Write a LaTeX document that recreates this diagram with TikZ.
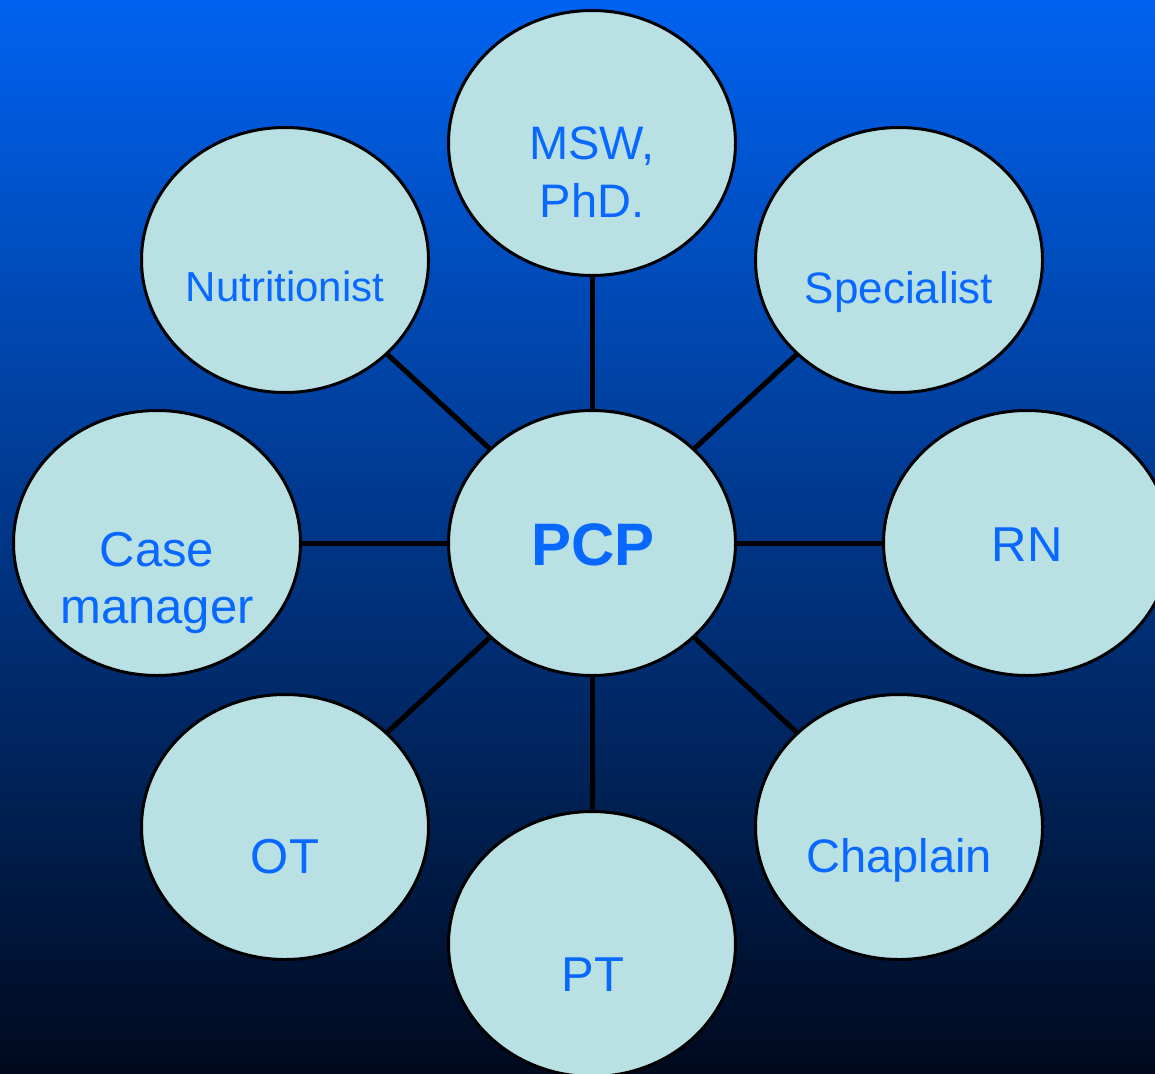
\documentclass[tikz,border=0pt]{standalone}
\usepackage{fontspec}
\setmainfont{Liberation Sans}
\usetikzlibrary{shapes.geometric}

\definecolor{bgtop}{RGB}{0,98,240}
\definecolor{bgmid}{RGB}{0,58,150}
\definecolor{bgbot}{RGB}{0,10,30}
\definecolor{bubblefill}{RGB}{185,224,227}
\definecolor{labelblue}{RGB}{8,104,255}

\tikzset{
  bubble/.style={ellipse, draw=black, line width=3pt, fill=bubblefill,
    minimum width=287pt, minimum height=265pt, inner sep=0pt},
  role/.style={text=labelblue, inner sep=0pt, anchor=base,
    font=\fontsize{49}{57}\selectfont},
  link/.style={draw=black, line width=5pt}
}

\begin{document}
\begin{tikzpicture}[x=1pt, y=-1pt]
  % backdrop
  \shade[top color=bgtop, middle color=bgmid, bottom color=bgbot]
    (0,0) rectangle (1155,1073);
  \useasboundingbox (0,0) rectangle (1155,1073);

  % bubbles
  \node[bubble] (msw)  at (592,143) {};
  \node[bubble] (nutr) at (285,260) {};
  \node[bubble] (spec) at (899,260) {};
  \node[bubble] (pcp)  at (592,543) {};
  \node[bubble] (case) at (157,543) {};
  \node[bubble] (rn)   at (1027,543) {};
  \node[bubble] (ot)   at (285,827) {};
  \node[bubble] (chap) at (899,827) {};
  \node[bubble] (pt)   at (592,944) {};

  % spokes from the hub
  \draw[link] (pcp) -- (msw);
  \draw[link] (pcp) -- (nutr);
  \draw[link] (pcp) -- (spec);
  \draw[link] (pcp) -- (case);
  \draw[link] (pcp) -- (rn);
  \draw[link] (pcp) -- (ot);
  \draw[link] (pcp) -- (chap);
  \draw[link] (pcp) -- (pt);

  % labels
  \node[role, anchor=center, align=center, font=\fontsize{47}{58}\selectfont]
    (msw-t) at (592,172) {MSW,\\PhD.};
  \node[role, font=\fontsize{42}{50}\selectfont] (nutr-t) at (285,301) {Nutritionist};
  \node[role, font=\fontsize{44}{52}\selectfont] (spec-t) at (899,303) {Specialist};
  \node[role, font=\fontsize{60}{70}\selectfont\bfseries] (pcp-t) at (593,565) {PCP};
  \node[role, anchor=center, align=center] (case-t) at (157,583) {Case\\manager};
  \node[role] (rn-t)   at (1027,561) {RN};
  \node[role] (ot-t)   at (285,873) {OT};
  \node[role, font=\fontsize{47}{56}\selectfont] (chap-t) at (899,872) {Chaplain};
  \node[role] (pt-t)   at (593,991) {PT};
\end{tikzpicture}
\end{document}
